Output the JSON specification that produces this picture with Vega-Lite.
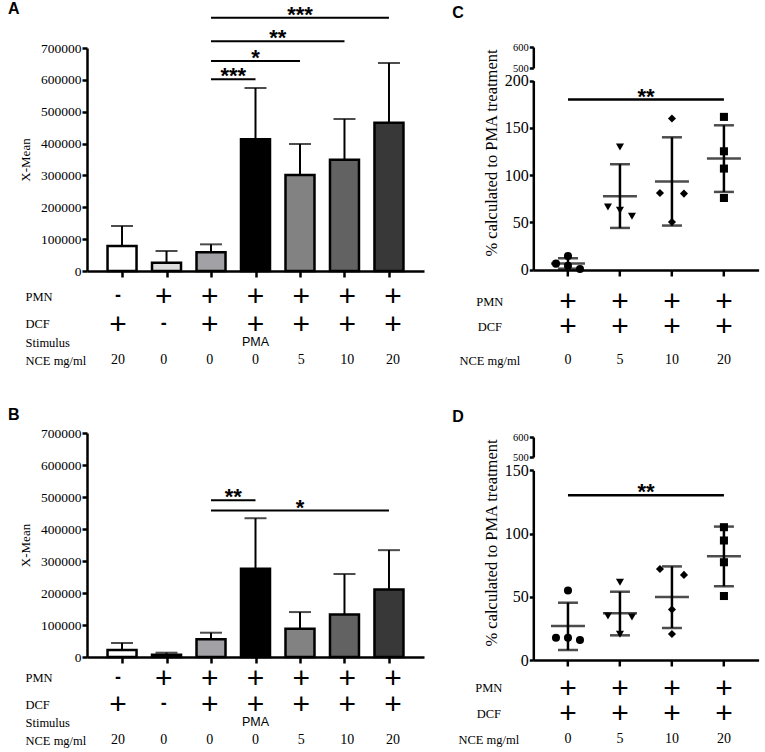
{
  "$schema": "https://vega.github.io/schema/vega-lite/v6.json",
  "padding": {"left": 8, "top": 0, "right": 5, "bottom": 2},
  "config": {
    "view": {"stroke": null},
    "font": "Liberation Serif",
    "axis": {"domainColor": "black", "domainWidth": 2.5, "tickColor": "black", "tickWidth": 2.5, "labelColor": "black", "titleColor": "black", "grid": false, "labelOverlap": false, "labelFont": "Liberation Serif", "titleFont": "Liberation Serif", "titleFontWeight": "normal"},
    "title": {"font": "Liberation Sans", "fontSize": 16, "fontWeight": "bold", "anchor": "start", "frame": "group", "color": "black"},
    "text": {"color": "black"}
  },
  "datasets": {
    "barsA": [
      {"pos": 1, "mean": 78500, "upper": 141200},
      {"pos": 2, "mean": 26200, "upper": 62800},
      {"pos": 3, "mean": 58600, "upper": 83700},
      {"pos": 4, "mean": 413300, "upper": 574400},
      {"pos": 5, "mean": 301300, "upper": 398600},
      {"pos": 6, "mean": 349500, "upper": 477100},
      {"pos": 7, "mean": 465600, "upper": 652900}
    ],
    "sigA": [
      {"from": 3, "to": 7, "y": 795200, "label": "***"},
      {"from": 3, "to": 6, "y": 720900, "label": "**"},
      {"from": 3, "to": 5, "y": 659200, "label": "*"},
      {"from": 3, "to": 4, "y": 601600, "label": "***"}
    ],
    "barsB": [
      {"pos": 1, "mean": 21800, "upper": 43700},
      {"pos": 2, "mean": 7300, "upper": 13500},
      {"pos": 3, "mean": 55100, "upper": 75900},
      {"pos": 4, "mean": 275600, "upper": 433700},
      {"pos": 5, "mean": 88400, "upper": 140400},
      {"pos": 6, "mean": 133100, "upper": 259000},
      {"pos": 7, "mean": 211100, "upper": 333900}
    ],
    "sigB": [
      {"from": 3, "to": 4, "y": 489900, "label": "**"},
      {"from": 3, "to": 7, "y": 457700, "label": "*"}
    ],
    "dotsC": [
      {"nce": 0, "slot": -1, "v": 6.3}, {"nce": 0, "slot": 0, "v": 14.4}, {"nce": 0, "slot": 0, "v": 4}, {"nce": 0, "slot": 1, "v": 0.7},
      {"nce": 5, "slot": 0, "v": 129.8}, {"nce": 5, "slot": -1, "v": 66.3}, {"nce": 5, "slot": 0, "v": 62.8}, {"nce": 5, "slot": 1, "v": 56.4},
      {"nce": 10, "slot": 0, "v": 159.8}, {"nce": 10, "slot": -1, "v": 81.1}, {"nce": 10, "slot": 1, "v": 80.4}, {"nce": 10, "slot": 0, "v": 50.4},
      {"nce": 20, "slot": 0, "v": 161.6}, {"nce": 20, "slot": 0, "v": 125.2}, {"nce": 20, "slot": 0, "v": 106.9}, {"nce": 20, "slot": 0, "v": 75.8}
    ],
    "statsC": [
      {"nce": 0, "mean": 6.5, "lo": 1, "hi": 12},
      {"nce": 5, "mean": 77.6, "lo": 44.1, "hi": 111.5},
      {"nce": 10, "mean": 93.1, "lo": 46.6, "hi": 140},
      {"nce": 20, "mean": 117.5, "lo": 82.2, "hi": 152.7}
    ],
    "sigC": [{"from": 0, "to": 20, "y": 180, "label": "**"}],
    "dotsD": [
      {"nce": 0, "slot": 0, "v": 55}, {"nce": 0, "slot": -1, "v": 17.6}, {"nce": 0, "slot": 0, "v": 17.6}, {"nce": 0, "slot": 1, "v": 15.8},
      {"nce": 5, "slot": 0, "v": 61.5}, {"nce": 5, "slot": -1, "v": 34.8}, {"nce": 5, "slot": 1, "v": 34}, {"nce": 5, "slot": 0, "v": 20.3},
      {"nce": 10, "slot": -1, "v": 72}, {"nce": 10, "slot": 1, "v": 67.3}, {"nce": 10, "slot": 0, "v": 40}, {"nce": 10, "slot": 0, "v": 20.5},
      {"nce": 20, "slot": 0, "v": 105}, {"nce": 20, "slot": 0, "v": 94.5}, {"nce": 20, "slot": 0, "v": 77.3}, {"nce": 20, "slot": 0, "v": 50.6}
    ],
    "statsD": [
      {"nce": 0, "mean": 26.9, "lo": 7.9, "hi": 45.3},
      {"nce": 5, "mean": 36.9, "lo": 19.5, "hi": 54},
      {"nce": 10, "mean": 49.8, "lo": 25.3, "hi": 74},
      {"nce": 20, "mean": 82, "lo": 58.3, "hi": 105.5}
    ],
    "sigD": [{"from": 0, "to": 20, "y": 130.2, "label": "**"}],
    "tableAB": [
      {"pos": 1, "row": "PMN", "t": "-"}, {"pos": 2, "row": "PMN", "t": "+"}, {"pos": 3, "row": "PMN", "t": "+"}, {"pos": 4, "row": "PMN", "t": "+"}, {"pos": 5, "row": "PMN", "t": "+"}, {"pos": 6, "row": "PMN", "t": "+"}, {"pos": 7, "row": "PMN", "t": "+"},
      {"pos": 1, "row": "DCF", "t": "+"}, {"pos": 2, "row": "DCF", "t": "-"}, {"pos": 3, "row": "DCF", "t": "+"}, {"pos": 4, "row": "DCF", "t": "+"}, {"pos": 5, "row": "DCF", "t": "+"}, {"pos": 6, "row": "DCF", "t": "+"}, {"pos": 7, "row": "DCF", "t": "+"},
      {"pos": 4, "row": "Stimulus", "t": "PMA"},
      {"pos": 1, "row": "NCE mg/ml", "t": "20"}, {"pos": 2, "row": "NCE mg/ml", "t": "0"}, {"pos": 3, "row": "NCE mg/ml", "t": "0"}, {"pos": 4, "row": "NCE mg/ml", "t": "0"}, {"pos": 5, "row": "NCE mg/ml", "t": "5"}, {"pos": 6, "row": "NCE mg/ml", "t": "10"}, {"pos": 7, "row": "NCE mg/ml", "t": "20"}
    ],
    "tableCD": [
      {"nce": 0, "row": "PMN", "t": "+"}, {"nce": 5, "row": "PMN", "t": "+"}, {"nce": 10, "row": "PMN", "t": "+"}, {"nce": 20, "row": "PMN", "t": "+"},
      {"nce": 0, "row": "DCF", "t": "+"}, {"nce": 5, "row": "DCF", "t": "+"}, {"nce": 10, "row": "DCF", "t": "+"}, {"nce": 20, "row": "DCF", "t": "+"},
      {"nce": 0, "row": "NCE mg/ml", "t": "0"}, {"nce": 5, "row": "NCE mg/ml", "t": "5"}, {"nce": 10, "row": "NCE mg/ml", "t": "10"}, {"nce": 20, "row": "NCE mg/ml", "t": "20"}
    ]
  },
  "columns": 2,
  "align": "each",
  "bounds": "flush",
  "spacing": {"row": 0, "column": 109.3},
  "concat": [
    {
      "width": 337, "height": 223,
      "title": {"text": "A", "dx": -79, "offset": -13},
      "layer": [
        {
          "data": {"name": "barsA"},
          "mark": {"type": "rule", "color": "black", "strokeWidth": 2},
          "encoding": {
            "x": {"field": "pos", "type": "quantitative", "title": null, "scale": {"domain": [0.325, 7.675], "nice": false, "zero": false}, "axis": {"values": [1, 2, 3, 4, 5, 6, 7], "labels": false, "tickSize": 6}},
            "y": {"field": "mean", "type": "quantitative", "title": "X-Mean", "scale": {"domain": [0, 700000], "nice": false}, "axis": {"values": [0, 100000, 200000, 300000, 400000, 500000, 600000, 700000], "format": "d", "labelOverlap": false, "labelFontSize": 13.5, "titleFontSize": 13, "tickSize": 5, "labelPadding": 1, "titlePadding": 8}},
            "y2": {"field": "upper"}
          }
        },
        {
          "data": {"name": "barsA"},
          "mark": {"type": "tick", "orient": "horizontal", "color": "black", "thickness": 2, "size": 22},
          "encoding": {
            "x": {"field": "pos", "type": "quantitative", "title": null, "scale": {"domain": [0.325, 7.675], "nice": false, "zero": false}, "axis": {"values": [1, 2, 3, 4, 5, 6, 7], "labels": false, "tickSize": 6}},
            "y": {"field": "upper", "type": "quantitative", "title": "X-Mean", "scale": {"domain": [0, 700000], "nice": false}, "axis": {"values": [0, 100000, 200000, 300000, 400000, 500000, 600000, 700000], "format": "d", "labelOverlap": false, "labelFontSize": 13.5, "titleFontSize": 13, "tickSize": 5, "labelPadding": 1, "titlePadding": 8}}
          }
        },
        {
          "data": {"name": "barsA"},
          "mark": {"type": "bar", "orient": "vertical", "width": 29, "stroke": "black", "strokeWidth": 2.5},
          "encoding": {
            "x": {"field": "pos", "type": "quantitative", "title": null, "scale": {"domain": [0.325, 7.675], "nice": false, "zero": false}, "axis": {"values": [1, 2, 3, 4, 5, 6, 7], "labels": false, "tickSize": 6}},
            "y": {"field": "mean", "type": "quantitative", "title": "X-Mean", "scale": {"domain": [0, 700000], "nice": false}, "axis": {"values": [0, 100000, 200000, 300000, 400000, 500000, 600000, 700000], "format": "d", "labelOverlap": false, "labelFontSize": 13.5, "titleFontSize": 13, "tickSize": 5, "labelPadding": 1, "titlePadding": 8}},
            "color": {"field": "pos", "type": "ordinal", "scale": {"domain": [1, 2, 3, 4, 5, 6, 7], "range": ["#ffffff", "#dedede", "#a2a2a6", "#000000", "#828282", "#626262", "#383838"]}, "legend": null}
          }
        },
        {
          "data": {"name": "sigA"},
          "mark": {"type": "rule", "color": "black", "strokeWidth": 2},
          "encoding": {
            "x": {"field": "from", "type": "quantitative", "title": null, "scale": {"domain": [0.325, 7.675], "nice": false, "zero": false}, "axis": {"values": [1, 2, 3, 4, 5, 6, 7], "labels": false, "tickSize": 6}},
            "x2": {"field": "to"},
            "y": {"field": "y", "type": "quantitative", "title": "X-Mean", "scale": {"domain": [0, 700000], "nice": false}, "axis": {"values": [0, 100000, 200000, 300000, 400000, 500000, 600000, 700000], "format": "d", "labelOverlap": false, "labelFontSize": 13.5, "titleFontSize": 13, "tickSize": 5, "labelPadding": 1, "titlePadding": 8}}
          }
        },
        {
          "data": {"name": "sigA"},
          "transform": [{"calculate": "(datum.from + datum.to) / 2", "as": "mid"}],
          "mark": {"type": "text", "font": "Liberation Sans", "fontSize": 22, "fontWeight": "bold", "baseline": "alphabetic", "dy": 4},
          "encoding": {
            "x": {"field": "mid", "type": "quantitative", "title": null, "scale": {"domain": [0.325, 7.675], "nice": false, "zero": false}, "axis": {"values": [1, 2, 3, 4, 5, 6, 7], "labels": false, "tickSize": 6}},
            "y": {"field": "y", "type": "quantitative", "title": "X-Mean", "scale": {"domain": [0, 700000], "nice": false}, "axis": {"values": [0, 100000, 200000, 300000, 400000, 500000, 600000, 700000], "format": "d", "labelOverlap": false, "labelFontSize": 13.5, "titleFontSize": 13, "tickSize": 5, "labelPadding": 1, "titlePadding": 8}},
            "text": {"field": "label"}
          }
        }
      ]
    },
    {
      "width": 225.3, "height": 222,
      "title": {"text": "C", "dx": -81, "offset": 21},
      "resolve": {"scale": {"y": "independent"}},
      "layer": [
        {
          "data": {"values": [{"v": 500}, {"v": 600}]},
          "mark": {"type": "point", "opacity": 0},
          "encoding": {
            "y": {"field": "v", "type": "quantitative", "title": null, "scale": {"domain": [500, 600], "range": [20, -1], "nice": false, "zero": false}, "axis": {"orient": "left", "values": [500, 600], "labelOverlap": false, "labelFontSize": 10.5, "tickSize": 4, "labelPadding": 1}}
          }
        },
        {
          "layer": [
            {
              "data": {"name": "statsC"},
              "mark": {"type": "rule", "color": "black", "strokeWidth": 2.5},
              "encoding": {
                "x": {"field": "nce", "type": "ordinal", "title": null, "scale": {"type": "band", "domain": [0, 5, 10, 20], "paddingInner": 0, "paddingOuter": 0.167}, "axis": {"labels": false, "tickSize": 6}},
                "y": {"field": "lo", "type": "quantitative", "title": "% calculated to PMA treatment", "scale": {"domain": [0, 200], "range": [221.6, 32.6], "nice": false, "zero": false}, "axis": {"orient": "left", "values": [0, 50, 100, 150, 200], "labelOverlap": false, "labelFontSize": 16, "titleFontSize": 16.5, "tickSize": 4, "labelPadding": 1, "titlePadding": 5, "titleY": 104.5}},
                "y2": {"field": "hi"}
              }
            },
            {
              "data": {"name": "statsC"},
              "mark": {"type": "tick", "orient": "horizontal", "color": "black", "thickness": 2.5, "size": 20},
              "encoding": {
                "x": {"field": "nce", "type": "ordinal", "title": null, "scale": {"type": "band", "domain": [0, 5, 10, 20], "paddingInner": 0, "paddingOuter": 0.167}, "axis": {"labels": false, "tickSize": 6}},
                "y": {"field": "hi", "type": "quantitative", "title": "% calculated to PMA treatment", "scale": {"domain": [0, 200], "range": [221.6, 32.6], "nice": false, "zero": false}, "axis": {"orient": "left", "values": [0, 50, 100, 150, 200], "labelOverlap": false, "labelFontSize": 16, "titleFontSize": 16.5, "tickSize": 4, "labelPadding": 1, "titlePadding": 5, "titleY": 104.5}}
              }
            },
            {
              "data": {"name": "statsC"},
              "mark": {"type": "tick", "orient": "horizontal", "color": "black", "thickness": 2.5, "size": 20},
              "encoding": {
                "x": {"field": "nce", "type": "ordinal", "title": null, "scale": {"type": "band", "domain": [0, 5, 10, 20], "paddingInner": 0, "paddingOuter": 0.167}, "axis": {"labels": false, "tickSize": 6}},
                "y": {"field": "lo", "type": "quantitative", "title": "% calculated to PMA treatment", "scale": {"domain": [0, 200], "range": [221.6, 32.6], "nice": false, "zero": false}, "axis": {"orient": "left", "values": [0, 50, 100, 150, 200], "labelOverlap": false, "labelFontSize": 16, "titleFontSize": 16.5, "tickSize": 4, "labelPadding": 1, "titlePadding": 5, "titleY": 104.5}}
              }
            },
            {
              "data": {"name": "statsC"},
              "mark": {"type": "tick", "orient": "horizontal", "color": "black", "thickness": 2.5, "size": 34},
              "encoding": {
                "x": {"field": "nce", "type": "ordinal", "title": null, "scale": {"type": "band", "domain": [0, 5, 10, 20], "paddingInner": 0, "paddingOuter": 0.167}, "axis": {"labels": false, "tickSize": 6}},
                "y": {"field": "mean", "type": "quantitative", "title": "% calculated to PMA treatment", "scale": {"domain": [0, 200], "range": [221.6, 32.6], "nice": false, "zero": false}, "axis": {"orient": "left", "values": [0, 50, 100, 150, 200], "labelOverlap": false, "labelFontSize": 16, "titleFontSize": 16.5, "tickSize": 4, "labelPadding": 1, "titlePadding": 5, "titleY": 104.5}}
              }
            },
            {
              "data": {"name": "dotsC"},
              "mark": {"type": "point", "filled": true, "color": "black", "opacity": 1, "size": 65},
              "encoding": {
                "x": {"field": "nce", "type": "ordinal", "title": null, "scale": {"type": "band", "domain": [0, 5, 10, 20], "paddingInner": 0, "paddingOuter": 0.167}, "axis": {"labels": false, "tickSize": 6}},
                "xOffset": {"field": "slot", "type": "quantitative", "scale": {"domain": [-1, 1], "range": [14, 38]}},
                "y": {"field": "v", "type": "quantitative", "title": "% calculated to PMA treatment", "scale": {"domain": [0, 200], "range": [221.6, 32.6], "nice": false, "zero": false}, "axis": {"orient": "left", "values": [0, 50, 100, 150, 200], "labelOverlap": false, "labelFontSize": 16, "titleFontSize": 16.5, "tickSize": 4, "labelPadding": 1, "titlePadding": 5, "titleY": 104.5}},
                "shape": {"field": "nce", "type": "ordinal", "scale": {"domain": [0, 5, 10, 20], "range": ["circle", "triangle-down", "diamond", "square"]}, "legend": null}
              }
            },
            {
              "data": {"name": "sigC"},
              "mark": {"type": "rule", "color": "black", "strokeWidth": 2.5},
              "encoding": {
                "x": {"field": "from", "type": "ordinal", "title": null, "scale": {"type": "band", "domain": [0, 5, 10, 20], "paddingInner": 0, "paddingOuter": 0.167}, "axis": {"labels": false, "tickSize": 6}},
                "x2": {"field": "to"},
                "y": {"field": "y", "type": "quantitative", "title": "% calculated to PMA treatment", "scale": {"domain": [0, 200], "range": [221.6, 32.6], "nice": false, "zero": false}, "axis": {"orient": "left", "values": [0, 50, 100, 150, 200], "labelOverlap": false, "labelFontSize": 16, "titleFontSize": 16.5, "tickSize": 4, "labelPadding": 1, "titlePadding": 5, "titleY": 104.5}}
              }
            },
            {
              "data": {"name": "sigC"},
              "mark": {"type": "text", "font": "Liberation Sans", "fontSize": 22, "fontWeight": "bold", "baseline": "alphabetic", "dy": 4},
              "encoding": {
                "x": {"datum": 5, "type": "ordinal", "bandPosition": 1, "scale": {"type": "band", "domain": [0, 5, 10, 20], "paddingInner": 0, "paddingOuter": 0.167}, "axis": {"labels": false, "tickSize": 6}},
                "y": {"field": "y", "type": "quantitative", "title": "% calculated to PMA treatment", "scale": {"domain": [0, 200], "range": [221.6, 32.6], "nice": false, "zero": false}, "axis": {"orient": "left", "values": [0, 50, 100, 150, 200], "labelOverlap": false, "labelFontSize": 16, "titleFontSize": 16.5, "tickSize": 4, "labelPadding": 1, "titlePadding": 5, "titleY": 104.5}},
                "text": {"field": "label"}
              }
            }
          ]
        }
      ]
    },
    {
      "width": 337, "height": 161.3,
      "data": {"name": "tableAB"},
      "encoding": {
        "x": {"field": "pos", "type": "quantitative", "scale": {"domain": [0.325, 7.675], "nice": false, "zero": false}, "axis": null},
        "y": {"field": "row", "type": "ordinal", "scale": {"type": "point", "domain": ["PMN", "g1", "g2", "DCF", "g3", "Stimulus", "g4", "NCE mg/ml"], "range": [25.3, 89.3], "padding": 0}, "axis": {"values": ["PMN", "DCF", "Stimulus", "NCE mg/ml"], "domain": false, "ticks": false, "labelAlign": "left", "labelBaseline": "middle", "labelPadding": 62, "labelFontSize": 12.5, "title": null}},
        "text": {"field": "t"}
      },
      "layer": [
        {"transform": [{"filter": "datum.t === '+'"}], "mark": {"type": "text", "font": "Liberation Sans", "fontSize": 30, "baseline": "middle", "dy": 1}},
        {"transform": [{"filter": "datum.t === '-'"}], "mark": {"type": "text", "font": "Liberation Sans", "fontSize": 18, "fontWeight": "bold", "baseline": "middle"}},
        {"transform": [{"filter": "datum.t === 'PMA'"}], "mark": {"type": "text", "font": "Liberation Sans", "fontSize": 12.5, "baseline": "middle"}},
        {"transform": [{"filter": "datum.row === 'NCE mg/ml'"}], "mark": {"type": "text", "font": "Liberation Serif", "fontSize": 14, "baseline": "middle"}}
      ]
    },
    {
      "width": 225.3, "height": 161.3,
      "data": {"name": "tableCD"},
      "encoding": {
        "x": {"field": "nce", "type": "ordinal", "scale": {"type": "band", "domain": [0, 5, 10, 20], "paddingInner": 0, "paddingOuter": 0.167}, "axis": null},
        "y": {"field": "row", "type": "ordinal", "scale": {"type": "point", "domain": ["PMN", "g1", "g2", "DCF", "g3", "Stimulus", "g4", "NCE mg/ml"], "range": [30, 89.3], "padding": 0}, "axis": {"values": ["PMN", "DCF", "NCE mg/ml"], "domain": false, "ticks": false, "labelAlign": "center", "labelBaseline": "middle", "labelPadding": 44, "labelFontSize": 12.5, "title": null}},
        "text": {"field": "t"}
      },
      "layer": [
        {"transform": [{"filter": "datum.t === '+'"}], "mark": {"type": "text", "font": "Liberation Sans", "fontSize": 30, "baseline": "middle", "dy": 1}},
        {"transform": [{"filter": "datum.row === 'NCE mg/ml'"}], "mark": {"type": "text", "font": "Liberation Serif", "fontSize": 14, "baseline": "middle"}}
      ]
    },
    {
      "width": 337, "height": 224,
      "title": {"text": "B", "dx": -79, "offset": 3},
      "layer": [
        {
          "data": {"name": "barsB"},
          "mark": {"type": "rule", "color": "black", "strokeWidth": 2},
          "encoding": {
            "x": {"field": "pos", "type": "quantitative", "title": null, "scale": {"domain": [0.325, 7.675], "nice": false, "zero": false}, "axis": {"values": [1, 2, 3, 4, 5, 6, 7], "labels": false, "tickSize": 6}},
            "y": {"field": "mean", "type": "quantitative", "title": "X-Mean", "scale": {"domain": [0, 700000], "nice": false}, "axis": {"values": [0, 100000, 200000, 300000, 400000, 500000, 600000, 700000], "format": "d", "labelOverlap": false, "labelFontSize": 13.5, "titleFontSize": 13, "tickSize": 5, "labelPadding": 1, "titlePadding": 8}},
            "y2": {"field": "upper"}
          }
        },
        {
          "data": {"name": "barsB"},
          "mark": {"type": "tick", "orient": "horizontal", "color": "black", "thickness": 2, "size": 22},
          "encoding": {
            "x": {"field": "pos", "type": "quantitative", "title": null, "scale": {"domain": [0.325, 7.675], "nice": false, "zero": false}, "axis": {"values": [1, 2, 3, 4, 5, 6, 7], "labels": false, "tickSize": 6}},
            "y": {"field": "upper", "type": "quantitative", "title": "X-Mean", "scale": {"domain": [0, 700000], "nice": false}, "axis": {"values": [0, 100000, 200000, 300000, 400000, 500000, 600000, 700000], "format": "d", "labelOverlap": false, "labelFontSize": 13.5, "titleFontSize": 13, "tickSize": 5, "labelPadding": 1, "titlePadding": 8}}
          }
        },
        {
          "data": {"name": "barsB"},
          "mark": {"type": "bar", "orient": "vertical", "width": 29, "stroke": "black", "strokeWidth": 2.5},
          "encoding": {
            "x": {"field": "pos", "type": "quantitative", "title": null, "scale": {"domain": [0.325, 7.675], "nice": false, "zero": false}, "axis": {"values": [1, 2, 3, 4, 5, 6, 7], "labels": false, "tickSize": 6}},
            "y": {"field": "mean", "type": "quantitative", "title": "X-Mean", "scale": {"domain": [0, 700000], "nice": false}, "axis": {"values": [0, 100000, 200000, 300000, 400000, 500000, 600000, 700000], "format": "d", "labelOverlap": false, "labelFontSize": 13.5, "titleFontSize": 13, "tickSize": 5, "labelPadding": 1, "titlePadding": 8}},
            "color": {"field": "pos", "type": "ordinal", "scale": {"domain": [1, 2, 3, 4, 5, 6, 7], "range": ["#ffffff", "#dedede", "#a2a2a6", "#000000", "#828282", "#626262", "#383838"]}, "legend": null}
          }
        },
        {
          "data": {"name": "sigB"},
          "mark": {"type": "rule", "color": "black", "strokeWidth": 2},
          "encoding": {
            "x": {"field": "from", "type": "quantitative", "title": null, "scale": {"domain": [0.325, 7.675], "nice": false, "zero": false}, "axis": {"values": [1, 2, 3, 4, 5, 6, 7], "labels": false, "tickSize": 6}},
            "x2": {"field": "to"},
            "y": {"field": "y", "type": "quantitative", "title": "X-Mean", "scale": {"domain": [0, 700000], "nice": false}, "axis": {"values": [0, 100000, 200000, 300000, 400000, 500000, 600000, 700000], "format": "d", "labelOverlap": false, "labelFontSize": 13.5, "titleFontSize": 13, "tickSize": 5, "labelPadding": 1, "titlePadding": 8}}
          }
        },
        {
          "data": {"name": "sigB"},
          "transform": [{"calculate": "(datum.from + datum.to) / 2", "as": "mid"}],
          "mark": {"type": "text", "font": "Liberation Sans", "fontSize": 22, "fontWeight": "bold", "baseline": "alphabetic", "dy": 4},
          "encoding": {
            "x": {"field": "mid", "type": "quantitative", "title": null, "scale": {"domain": [0.325, 7.675], "nice": false, "zero": false}, "axis": {"values": [1, 2, 3, 4, 5, 6, 7], "labels": false, "tickSize": 6}},
            "y": {"field": "y", "type": "quantitative", "title": "X-Mean", "scale": {"domain": [0, 700000], "nice": false}, "axis": {"values": [0, 100000, 200000, 300000, 400000, 500000, 600000, 700000], "format": "d", "labelOverlap": false, "labelFontSize": 13.5, "titleFontSize": 13, "tickSize": 5, "labelPadding": 1, "titlePadding": 8}},
            "text": {"field": "label"}
          }
        }
      ]
    },
    {
      "width": 225.3, "height": 227,
      "title": {"text": "D", "dx": -81, "offset": 7},
      "resolve": {"scale": {"y": "independent"}},
      "layer": [
        {
          "data": {"values": [{"v": 500}, {"v": 600}]},
          "mark": {"type": "point", "opacity": 0},
          "encoding": {
            "y": {"field": "v", "type": "quantitative", "title": null, "scale": {"domain": [500, 600], "range": [24, 4], "nice": false, "zero": false}, "axis": {"orient": "left", "values": [500, 600], "labelOverlap": false, "labelFontSize": 10.5, "tickSize": 4, "labelPadding": 1}}
          }
        },
        {
          "layer": [
            {
              "data": {"name": "statsD"},
              "mark": {"type": "rule", "color": "black", "strokeWidth": 2.5},
              "encoding": {
                "x": {"field": "nce", "type": "ordinal", "title": null, "scale": {"type": "band", "domain": [0, 5, 10, 20], "paddingInner": 0, "paddingOuter": 0.167}, "axis": {"labels": false, "tickSize": 6}},
                "y": {"field": "lo", "type": "quantitative", "title": "% calculated to PMA treatment", "scale": {"domain": [0, 150], "range": [227, 37.3], "nice": false, "zero": false}, "axis": {"orient": "left", "values": [0, 50, 100, 150], "labelOverlap": false, "labelFontSize": 16, "titleFontSize": 16.5, "tickSize": 4, "labelPadding": 1, "titlePadding": 5, "titleY": 109.5}},
                "y2": {"field": "hi"}
              }
            },
            {
              "data": {"name": "statsD"},
              "mark": {"type": "tick", "orient": "horizontal", "color": "black", "thickness": 2.5, "size": 20},
              "encoding": {
                "x": {"field": "nce", "type": "ordinal", "title": null, "scale": {"type": "band", "domain": [0, 5, 10, 20], "paddingInner": 0, "paddingOuter": 0.167}, "axis": {"labels": false, "tickSize": 6}},
                "y": {"field": "hi", "type": "quantitative", "title": "% calculated to PMA treatment", "scale": {"domain": [0, 150], "range": [227, 37.3], "nice": false, "zero": false}, "axis": {"orient": "left", "values": [0, 50, 100, 150], "labelOverlap": false, "labelFontSize": 16, "titleFontSize": 16.5, "tickSize": 4, "labelPadding": 1, "titlePadding": 5, "titleY": 109.5}}
              }
            },
            {
              "data": {"name": "statsD"},
              "mark": {"type": "tick", "orient": "horizontal", "color": "black", "thickness": 2.5, "size": 20},
              "encoding": {
                "x": {"field": "nce", "type": "ordinal", "title": null, "scale": {"type": "band", "domain": [0, 5, 10, 20], "paddingInner": 0, "paddingOuter": 0.167}, "axis": {"labels": false, "tickSize": 6}},
                "y": {"field": "lo", "type": "quantitative", "title": "% calculated to PMA treatment", "scale": {"domain": [0, 150], "range": [227, 37.3], "nice": false, "zero": false}, "axis": {"orient": "left", "values": [0, 50, 100, 150], "labelOverlap": false, "labelFontSize": 16, "titleFontSize": 16.5, "tickSize": 4, "labelPadding": 1, "titlePadding": 5, "titleY": 109.5}}
              }
            },
            {
              "data": {"name": "statsD"},
              "mark": {"type": "tick", "orient": "horizontal", "color": "black", "thickness": 2.5, "size": 34},
              "encoding": {
                "x": {"field": "nce", "type": "ordinal", "title": null, "scale": {"type": "band", "domain": [0, 5, 10, 20], "paddingInner": 0, "paddingOuter": 0.167}, "axis": {"labels": false, "tickSize": 6}},
                "y": {"field": "mean", "type": "quantitative", "title": "% calculated to PMA treatment", "scale": {"domain": [0, 150], "range": [227, 37.3], "nice": false, "zero": false}, "axis": {"orient": "left", "values": [0, 50, 100, 150], "labelOverlap": false, "labelFontSize": 16, "titleFontSize": 16.5, "tickSize": 4, "labelPadding": 1, "titlePadding": 5, "titleY": 109.5}}
              }
            },
            {
              "data": {"name": "dotsD"},
              "mark": {"type": "point", "filled": true, "color": "black", "opacity": 1, "size": 65},
              "encoding": {
                "x": {"field": "nce", "type": "ordinal", "title": null, "scale": {"type": "band", "domain": [0, 5, 10, 20], "paddingInner": 0, "paddingOuter": 0.167}, "axis": {"labels": false, "tickSize": 6}},
                "xOffset": {"field": "slot", "type": "quantitative", "scale": {"domain": [-1, 1], "range": [15, 37]}},
                "y": {"field": "v", "type": "quantitative", "title": "% calculated to PMA treatment", "scale": {"domain": [0, 150], "range": [227, 37.3], "nice": false, "zero": false}, "axis": {"orient": "left", "values": [0, 50, 100, 150], "labelOverlap": false, "labelFontSize": 16, "titleFontSize": 16.5, "tickSize": 4, "labelPadding": 1, "titlePadding": 5, "titleY": 109.5}},
                "shape": {"field": "nce", "type": "ordinal", "scale": {"domain": [0, 5, 10, 20], "range": ["circle", "triangle-down", "diamond", "square"]}, "legend": null}
              }
            },
            {
              "data": {"name": "sigD"},
              "mark": {"type": "rule", "color": "black", "strokeWidth": 2.5},
              "encoding": {
                "x": {"field": "from", "type": "ordinal", "title": null, "scale": {"type": "band", "domain": [0, 5, 10, 20], "paddingInner": 0, "paddingOuter": 0.167}, "axis": {"labels": false, "tickSize": 6}},
                "x2": {"field": "to"},
                "y": {"field": "y", "type": "quantitative", "title": "% calculated to PMA treatment", "scale": {"domain": [0, 150], "range": [227, 37.3], "nice": false, "zero": false}, "axis": {"orient": "left", "values": [0, 50, 100, 150], "labelOverlap": false, "labelFontSize": 16, "titleFontSize": 16.5, "tickSize": 4, "labelPadding": 1, "titlePadding": 5, "titleY": 109.5}}
              }
            },
            {
              "data": {"name": "sigD"},
              "mark": {"type": "text", "font": "Liberation Sans", "fontSize": 22, "fontWeight": "bold", "baseline": "alphabetic", "dy": 4},
              "encoding": {
                "x": {"datum": 5, "type": "ordinal", "bandPosition": 1, "scale": {"type": "band", "domain": [0, 5, 10, 20], "paddingInner": 0, "paddingOuter": 0.167}, "axis": {"labels": false, "tickSize": 6}},
                "y": {"field": "y", "type": "quantitative", "title": "% calculated to PMA treatment", "scale": {"domain": [0, 150], "range": [227, 37.3], "nice": false, "zero": false}, "axis": {"orient": "left", "values": [0, 50, 100, 150], "labelOverlap": false, "labelFontSize": 16, "titleFontSize": 16.5, "tickSize": 4, "labelPadding": 1, "titlePadding": 5, "titleY": 109.5}},
                "text": {"field": "label"}
              }
            }
          ]
        }
      ]
    },
    {
      "width": 337, "height": 90,
      "data": {"name": "tableAB"},
      "encoding": {
        "x": {"field": "pos", "type": "quantitative", "scale": {"domain": [0.325, 7.675], "nice": false, "zero": false}, "axis": null},
        "y": {"field": "row", "type": "ordinal", "scale": {"type": "point", "domain": ["PMN", "g1", "g2", "DCF", "g3", "Stimulus", "g4", "NCE mg/ml"], "range": [17.7, 80], "padding": 0}, "axis": {"values": ["PMN", "DCF", "Stimulus", "NCE mg/ml"], "domain": false, "ticks": false, "labelAlign": "left", "labelBaseline": "middle", "labelPadding": 62, "labelFontSize": 12.5, "title": null}},
        "text": {"field": "t"}
      },
      "layer": [
        {"transform": [{"filter": "datum.t === '+'"}], "mark": {"type": "text", "font": "Liberation Sans", "fontSize": 30, "baseline": "middle", "dy": 1}},
        {"transform": [{"filter": "datum.t === '-'"}], "mark": {"type": "text", "font": "Liberation Sans", "fontSize": 18, "fontWeight": "bold", "baseline": "middle"}},
        {"transform": [{"filter": "datum.t === 'PMA'"}], "mark": {"type": "text", "font": "Liberation Sans", "fontSize": 12.5, "baseline": "middle"}},
        {"transform": [{"filter": "datum.row === 'NCE mg/ml'"}], "mark": {"type": "text", "font": "Liberation Serif", "fontSize": 14, "baseline": "middle"}}
      ]
    },
    {
      "width": 225.3, "height": 90,
      "data": {"name": "tableCD"},
      "encoding": {
        "x": {"field": "nce", "type": "ordinal", "scale": {"type": "band", "domain": [0, 5, 10, 20], "paddingInner": 0, "paddingOuter": 0.167}, "axis": null},
        "y": {"field": "row", "type": "ordinal", "scale": {"type": "point", "domain": ["PMN", "DCF", "NCE mg/ml"], "range": [27.7, 79], "padding": 0}, "axis": {"values": ["PMN", "DCF", "NCE mg/ml"], "domain": false, "ticks": false, "labelAlign": "center", "labelBaseline": "middle", "labelPadding": 45, "labelFontSize": 12.5, "title": null}},
        "text": {"field": "t"}
      },
      "layer": [
        {"transform": [{"filter": "datum.t === '+'"}], "mark": {"type": "text", "font": "Liberation Sans", "fontSize": 30, "baseline": "middle", "dy": 1}},
        {"transform": [{"filter": "datum.row === 'NCE mg/ml'"}], "mark": {"type": "text", "font": "Liberation Serif", "fontSize": 14, "baseline": "middle"}}
      ]
    }
  ]
}
